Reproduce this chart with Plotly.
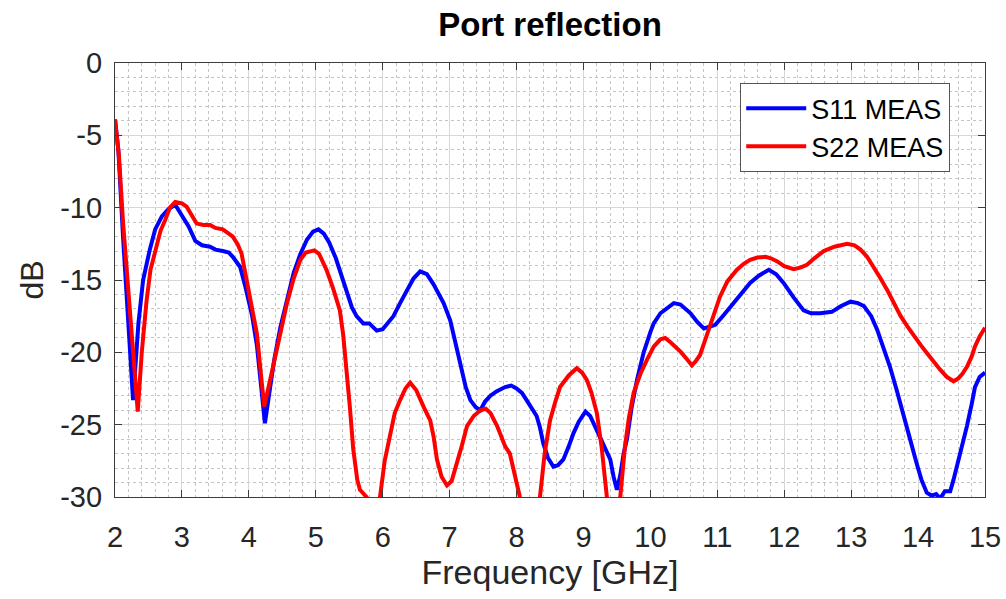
import plotly.graph_objects as go

# ---- data ----
s11_freq = [2.0, 2.05, 2.12, 2.2, 2.27, 2.35, 2.42, 2.52, 2.6, 2.7, 2.8, 2.9, 3.0, 3.1, 3.2, 3.3, 3.42, 3.5,
            3.61, 3.7, 3.76, 3.87, 3.95, 4.05, 4.12, 4.18, 4.24, 4.3, 4.38, 4.47, 4.57, 4.67, 4.77, 4.87,
            4.96, 5.04, 5.12, 5.2, 5.3, 5.38, 5.46, 5.54, 5.61, 5.71, 5.8, 5.91, 6.0, 6.08, 6.16, 6.26,
            6.36, 6.46, 6.56, 6.66, 6.76, 6.81, 6.91, 7.01, 7.08, 7.16, 7.24, 7.31, 7.39, 7.46, 7.53, 7.61,
            7.7, 7.83, 7.92, 8.0, 8.08, 8.15, 8.22, 8.3, 8.35, 8.4, 8.47, 8.55, 8.62, 8.7, 8.78, 8.85, 8.93,
            9.03, 9.1, 9.2, 9.3, 9.35, 9.4, 9.45, 9.5, 9.55, 9.6, 9.65, 9.72, 9.8, 9.9, 10.0, 10.05, 10.15,
            10.25, 10.35, 10.45, 10.6, 10.7, 10.8, 10.9, 10.97, 11.1, 11.24, 11.35, 11.49, 11.62, 11.77,
            11.88, 11.99, 12.14, 12.29, 12.4, 12.54, 12.71, 12.85, 12.99, 13.1, 13.19, 13.3, 13.39, 13.48,
            13.58, 13.68, 13.78, 13.88, 13.98, 14.05, 14.13, 14.2, 14.27, 14.33, 14.4, 14.48, 14.53, 14.58,
            14.65, 14.73, 14.8, 14.85, 14.92, 15.0]
s11_db = [-3.9, -6.0, -12.0, -18.5, -23.3, -18.0, -15.0, -12.9, -11.5, -10.6, -10.1, -9.8, -10.5, -11.3, -12.3,
          -12.6, -12.7, -12.9, -13.0, -13.1, -13.4, -14.1, -15.5, -17.5, -19.5, -22.5, -24.9, -23.0, -20.5,
          -18.3, -16.3, -14.5, -13.2, -12.2, -11.65, -11.5, -11.8, -12.4, -13.5, -14.7, -15.9, -16.9, -17.5,
          -18.0, -18.0, -18.5, -18.4, -18.0, -17.5, -16.6, -15.7, -14.9, -14.4, -14.6, -15.3, -15.7, -16.6,
          -17.8, -19.3, -21.0, -22.4, -23.3, -23.8, -24.0, -23.4, -23.0, -22.7, -22.4, -22.3, -22.5, -22.8,
          -23.3, -23.8, -24.4, -25.2, -26.3, -27.3, -27.9, -27.8, -27.4, -26.5, -25.6, -24.8, -24.1, -24.4,
          -25.4, -26.3, -26.8, -27.4, -28.6, -29.5, -28.5, -27.0, -26.0, -23.8, -21.9, -20.0, -18.6, -18.0,
          -17.3, -16.95, -16.6, -16.7, -17.3, -17.9, -18.35, -18.2, -18.1, -17.4, -16.6, -15.9, -15.2, -14.7,
          -14.3, -14.6, -15.2, -16.2, -17.1, -17.3, -17.3, -17.2, -16.8, -16.5, -16.6, -16.8, -17.5, -18.45,
          -19.6, -21.0, -22.6, -24.2, -26.0, -27.7, -28.8, -29.7, -29.9, -29.8, -30.1, -29.6, -29.6, -28.8,
          -27.9, -26.6, -25.1, -23.6, -22.4, -21.7, -21.4]

s22_freq = [2.0, 2.06, 2.12, 2.17, 2.24, 2.3, 2.34, 2.4, 2.47, 2.53, 2.6, 2.68, 2.75, 2.82, 2.9, 3.0, 3.07,
            3.15, 3.22, 3.32, 3.42, 3.5, 3.61, 3.7, 3.76, 3.83, 3.89, 3.95, 4.02, 4.12, 4.18, 4.23, 4.29,
            4.38, 4.47, 4.57, 4.67, 4.77, 4.85, 4.91, 4.98, 5.05, 5.16, 5.26, 5.36, 5.41, 5.46, 5.51, 5.56,
            5.62, 5.66, 5.72, 5.76, 5.85, 5.96, 6.03, 6.11, 6.18, 6.26, 6.34, 6.41, 6.5, 6.61, 6.71, 6.76,
            6.81, 6.88, 6.96, 7.03, 7.11, 7.18, 7.26, 7.36, 7.46, 7.54, 7.61, 7.71, 7.83, 7.9, 7.98, 8.05,
            8.2, 8.35, 8.42, 8.5, 8.58, 8.65, 8.78, 8.9, 8.98, 9.05, 9.12, 9.2, 9.27, 9.35, 9.45, 9.55, 9.62,
            9.68, 9.75, 9.85, 9.95, 10.05, 10.15, 10.22, 10.3, 10.45, 10.55, 10.62, 10.68, 10.74, 10.8,
            10.87, 10.95, 11.04, 11.15, 11.29, 11.39, 11.49, 11.6, 11.72, 11.8, 11.89, 12.0, 12.14, 12.24,
            12.34, 12.45, 12.59, 12.75, 12.94, 13.05, 13.14, 13.24, 13.34, 13.44, 13.54, 13.64, 13.74,
            13.84, 13.94, 14.04, 14.14, 14.24, 14.33, 14.43, 14.53, 14.6, 14.66, 14.73, 14.8, 14.85, 14.92,
            15.0]
s22_db = [-3.9, -6.5, -11.0, -14.1, -18.5, -22.5, -24.1, -20.0, -16.5, -14.3, -12.9, -11.6, -10.85, -10.0,
          -9.6, -9.7, -9.93, -10.5, -11.1, -11.2, -11.2, -11.4, -11.5, -11.8, -12.0, -12.5, -13.15, -14.6,
          -16.4, -18.7, -21.5, -23.75, -22.5, -20.5, -18.7, -16.6, -14.9, -13.6, -13.1, -13.0, -12.95, -13.2,
          -14.3, -15.6, -17.1, -18.8, -21.0, -23.8, -26.7, -28.8, -29.5, -29.8, -30.0, -31.0, -30.0, -27.5,
          -25.6, -24.2, -23.3, -22.5, -22.1, -22.6, -23.75, -24.7, -25.8, -27.4, -28.6, -29.2, -28.9, -27.7,
          -26.5, -25.1, -24.4, -24.0, -23.9, -24.2, -25.1, -26.5, -27.0, -28.6, -30.0, -31.5, -30.0, -27.0,
          -24.7, -23.4, -22.4, -21.6, -21.1, -21.4, -21.9, -22.8, -24.2, -26.5, -30.0, -31.5, -30.0, -26.5,
          -24.5, -22.8, -21.5, -20.5, -19.6, -19.1, -19.0, -19.3, -19.95, -20.5, -20.9, -20.6, -20.2, -19.4,
          -18.45, -17.3, -16.15, -15.1, -14.3, -13.9, -13.6, -13.45, -13.4, -13.5, -13.7, -14.05, -14.25,
          -14.15, -13.95, -13.5, -13.0, -12.7, -12.5, -12.6, -12.9, -13.4, -14.1, -14.9, -15.7, -16.6, -17.5,
          -18.2, -18.9, -19.5, -20.1, -20.7, -21.2, -21.7, -22.0, -21.8, -21.5, -21.0, -20.3, -19.6, -18.9,
          -18.3]

series_names = ["S11 MEAS", "S22 MEAS"]
x_ticks = list(range(2, 16))
y_ticks = [0, -5, -10, -15, -20, -25, -30]

FONT = "Liberation Sans, Arial, sans-serif"
TXT = "#262626"

fig = go.Figure()
fig.add_trace(go.Scatter(x=s11_freq, y=s11_db, mode="lines", name=series_names[0],
                         line=dict(color="#0000FF", width=4)))
fig.add_trace(go.Scatter(x=s22_freq, y=s22_db, mode="lines", name=series_names[1],
                         line=dict(color="#FF0000", width=4)))

axis_common = dict(
    showline=True, linecolor="#3c3c3c", linewidth=1.2, mirror="ticks",
    ticks="inside", ticklen=7, tickcolor="#3c3c3c", tickwidth=1.2,
    showgrid=True, gridcolor="#d8d8d8", gridwidth=1,
    zeroline=False, automargin=False,
    tickfont=dict(family=FONT, size=29, color=TXT),
)

# full window size; page body margin removed below so the figure sits at (0, 0)
W, H = 1006, 599
L, R, T, B = 115, 21, 63, 102

fig.update_layout(
    width=W, height=H,
    paper_bgcolor="white", plot_bgcolor="white",
    margin=dict(l=L, r=R, t=T, b=B),
    title=dict(text="<b>Port reflection</b>", x=(L + (W - R)) / 2 / W, xanchor="center",
               y=1 - 24 / H, yanchor="middle", yref="container",
               font=dict(family=FONT, size=33, color="black")),
    xaxis=dict(range=[2, 15], tickvals=x_ticks, ticktext=[str(v) for v in x_ticks],
               ticklabelstandoff=14,
               title=dict(text="Frequency [GHz]", font=dict(family=FONT, size=34, color=TXT), standoff=8),
               minor=dict(dtick=0.2, showgrid=True, gridcolor="#c4c4c4", griddash="dot", gridwidth=1, ticks=""),
               **axis_common),
    yaxis=dict(range=[-30, 0], tickvals=y_ticks, ticktext=[str(v) for v in y_ticks],
               ticklabelstandoff=6,
               title=dict(text="dB", font=dict(family=FONT, size=32, color=TXT), standoff=6),
               minor=dict(dtick=1, showgrid=True, gridcolor="#c4c4c4", griddash="dot", gridwidth=1, ticks=""),
               **axis_common),
    legend=dict(x=(740 - 115) / 870, y=(497 - 83) / 434, xanchor="left", yanchor="top",
                bgcolor="white", bordercolor="#555555", borderwidth=1.2,
                font=dict(family=FONT, size=27, color="black"),
                itemwidth=60, entrywidth=150),
    showlegend=True,
)

fig.write_html("out.html", config={"displayModeBar": False},
               post_script="document.body.style.margin='0';document.body.style.overflow='hidden';")
